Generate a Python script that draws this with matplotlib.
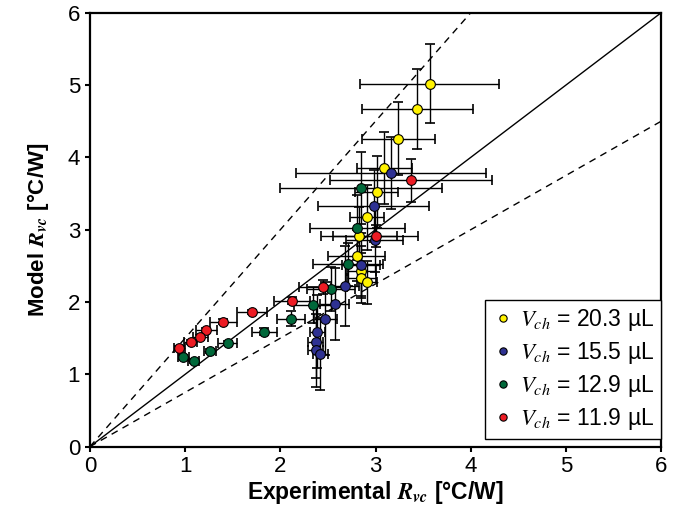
import matplotlib.pyplot as plt

plt.rcParams['font.family'] = ['Liberation Sans', 'DejaVu Sans']
plt.rcParams['mathtext.fontset'] = 'stix'

# series: experimental R_vc, model R_vc, and their uncertainties
labels = ['20.3', '15.5', '12.9', '11.9']
colors = ['#FFF200', '#2E3192', '#00683A', '#ED1C24']

exp_203 = [3.57, 3.44, 3.24, 3.09, 3.01, 2.91, 2.83, 2.80, 2.85, 2.85, 2.91]
mod_203 = [5.02, 4.67, 4.26, 3.85, 3.52, 3.17, 2.91, 2.64, 2.43, 2.33, 2.27]
xerr_203 = [0.73, 0.58, 0.38, 0.29, 0.23, 0.18, 0.40, 0.30, 0.15, 0.15, 0.10]
yerr_203 = [0.55, 0.55, 0.50, 0.50, 0.50, 0.45, 0.40, 0.35, 0.35, 0.35, 0.30]

exp_155 = [3.16, 2.98, 2.99, 2.85, 2.68, 2.57, 2.47, 2.39, 2.37, 2.37, 2.42]
mod_155 = [3.78, 3.33, 2.86, 2.51, 2.22, 1.97, 1.77, 1.59, 1.45, 1.33, 1.28]
xerr_155 = [1.00, 0.58, 0.30, 0.20, 0.15, 0.15, 0.12, 0.08, 0.08, 0.08, 0.08]
yerr_155 = [0.50, 0.50, 0.45, 0.45, 0.55, 0.50, 0.50, 0.50, 0.50, 0.50, 0.50]

exp_129 = [2.85, 2.81, 2.71, 2.53, 2.34, 2.11, 1.83, 1.45, 1.26, 1.09, 0.98]
mod_129 = [3.58, 3.03, 2.52, 2.18, 1.96, 1.77, 1.59, 1.43, 1.32, 1.18, 1.24]
xerr_129 = [0.85, 0.50, 0.37, 0.25, 0.20, 0.15, 0.13, 0.10, 0.06, 0.06, 0.06]
yerr_129 = [0.50, 0.45, 0.30, 0.30, 0.25, 0.10, 0.05, 0.03, 0.03, 0.03, 0.03]

exp_119 = [3.37, 3.00, 2.45, 2.12, 1.70, 1.40, 1.22, 1.16, 1.06, 0.94]
mod_119 = [3.68, 2.91, 2.21, 2.02, 1.86, 1.73, 1.61, 1.51, 1.45, 1.36]
xerr_119 = [0.85, 0.45, 0.25, 0.19, 0.16, 0.14, 0.11, 0.08, 0.07, 0.06]
yerr_119 = [0.30, 0.15, 0.10, 0.05, 0.03, 0.03, 0.03, 0.03, 0.03, 0.03]

series = [
    (exp_203, mod_203, xerr_203, yerr_203),
    (exp_155, mod_155, xerr_155, yerr_155),
    (exp_129, mod_129, xerr_129, yerr_129),
    (exp_119, mod_119, xerr_119, yerr_119),
]

fig = plt.figure(figsize=(6.81, 5.07), dpi=100)
ax = fig.add_axes([0.132, 0.119, 0.839, 0.856])

# parity line and +50% / -25% bounds
ax.plot([0, 6], [0, 6], color='black', lw=1.0, zorder=1)
ax.plot([0, 4], [0, 6], color='black', lw=1.0, ls=(0, (5, 4)), zorder=1)
ax.plot([0, 6], [0, 4.5], color='black', lw=1.0, ls=(0, (5, 4)), zorder=1)

for (x, y, xe, ye) in series:
    ax.errorbar(x, y, xerr=xe, yerr=ye, fmt='none', ecolor='black',
                elinewidth=1.0, capsize=3.5, capthick=1.2, zorder=2)

for (x, y, xe, ye), c, lab in zip(series, colors, labels):
    ax.plot(x, y, 'o', ms=7, mfc=c, mec='black', mew=0.8, zorder=3,
            label=r'$V_{ch}$ = ' + lab + ' µL')

ax.set_xlim(0, 6)
ax.set_ylim(0, 6)
ax.set_xticks(range(7))
ax.set_yticks(range(7))
ax.tick_params(labelsize=16, width=1.5, length=3.5, direction='out')
for s in ax.spines.values():
    s.set_linewidth(1.6)

ax.set_xlabel(r'Experimental $\mathbfit{R}_{\mathbfit{vc}}$ [°C/W]', fontsize=16.5,
              fontweight='bold', labelpad=1.5)
ax.set_ylabel(r'Model $\mathbfit{R}_{\mathbfit{vc}}$ [°C/W]', fontsize=16,
              fontweight='bold', labelpad=12)

leg = ax.legend(loc='lower right', bbox_to_anchor=(1.0, 0.018), borderaxespad=0,
                fontsize=16.5, markerscale=0.75, handletextpad=0.25, handlelength=1.0,
                labelspacing=0.3, fancybox=False, framealpha=1, borderpad=0.3)
leg.get_frame().set_edgecolor('black')
leg.get_frame().set_linewidth(1.0)

fig.savefig('out.png', dpi=100)
plt.close()
